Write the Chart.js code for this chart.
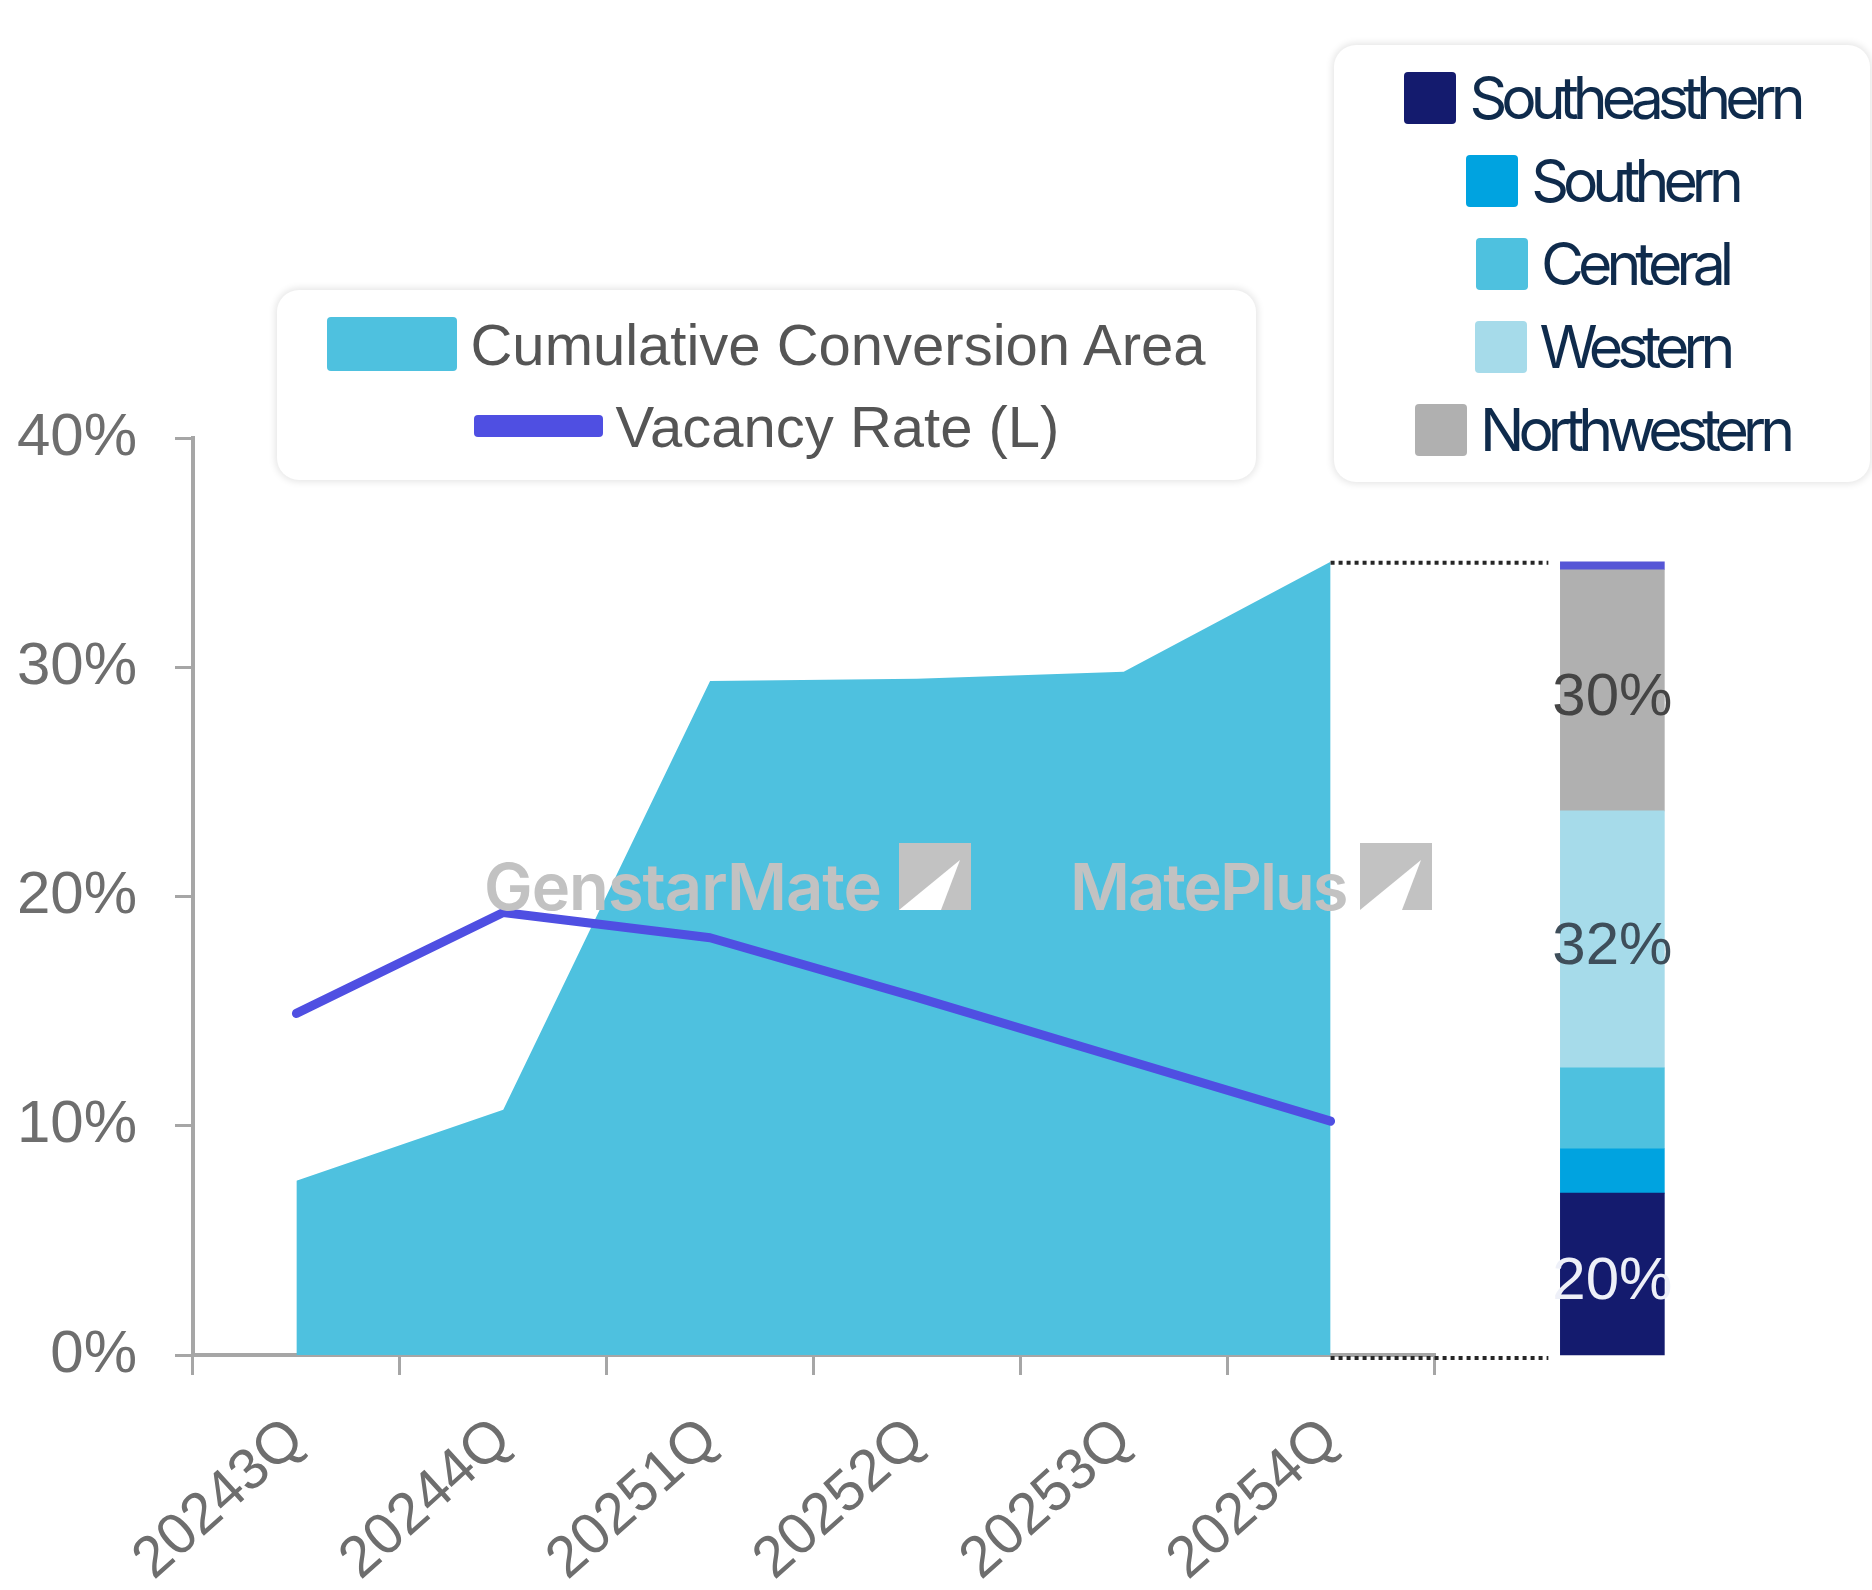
<!DOCTYPE html>
<html>
<head>
<meta charset="utf-8">
<script src="https://cdn.jsdelivr.net/npm/chart.js@4.4.1/dist/chart.umd.min.js"></script>
<style>
  html, body { margin: 0; padding: 0; background: #fff; }
  #wrap { position: relative; width: 1872px; height: 1590px; overflow: hidden; background: #fff; }
  #c { position: absolute; left: 0; top: 0; }
  .legend { position: absolute; background: #fff; border-radius: 22px;
            box-shadow: 0 0 7px 2px rgba(0,0,0,0.10);
            display: flex; flex-direction: column; justify-content: center; box-sizing: border-box; }
  .row { display: flex; align-items: center; justify-content: center; white-space: nowrap; }
  .sw { border-radius: 4px; flex: none; }
  #legend1 { left: 277px; top: 290px; width: 979px; height: 190px; }
  #legend1 .row { height: 82px; }
  #legend1 .txt { font-family: "Liberation Sans", Arial, sans-serif; font-size: 58px; color: #555; margin-left: 13px; }
  #legend2 { left: 1334px; top: 45px; width: 536px; height: 437px; }
  #legend2 .row { height: 83px; }
  #legend2 .txt { font-family: Inter, "Liberation Sans", sans-serif; font-size: 59px; color: #0f2b4c;
                  letter-spacing: -6px; margin-left: 13px; }
  .wm { position: absolute; font-family: Inter, "Liberation Sans", sans-serif; font-weight: 600;
        font-size: 65px; line-height: 65px; color: #c2c2c2; white-space: nowrap; letter-spacing: -1px; }
  .logo { position: absolute; }
</style>
</head>
<body>
<div id="wrap">
  <canvas id="c" width="1872" height="1590"></canvas>
  <div id="legend1" class="legend"></div>
  <div id="legend2" class="legend"></div>
  <div class="wm" style="left:484px; top:854px;">GenstarMate</div>
  <svg class="logo" style="left:899px; top:843px;" width="72" height="67" viewBox="0 0 72 67">
    <rect x="0" y="0" width="72" height="67" fill="#c2c2c2"/>
    <polygon points="61,17 0,67 42,67" fill="#fff"/>
  </svg>
  <div class="wm" style="left:1070px; top:854px; letter-spacing:-2px;">MatePlus</div>
  <svg class="logo" style="left:1360px; top:843px;" width="72" height="67" viewBox="0 0 72 67">
    <rect x="0" y="0" width="72" height="67" fill="#c2c2c2"/>
    <polygon points="61,17 0,67 42,67" fill="#fff"/>
  </svg>
</div>
<script>
// ---------------- data ----------------
const categories = ['20243Q', '20244Q', '20251Q', '20252Q', '20253Q', '20254Q'];
const conversionArea = [7.6, 10.7, 29.4, 29.5, 29.8, 34.6];   // % (area)
const vacancyRate = [14.9, 19.3, 18.2, 15.6, 12.9, 10.2];      // % (line, left axis)
const yTickValues = [0, 10, 20, 30, 40];
const seriesNames = ['Cumulative Conversion Area', 'Vacancy Rate (L)'];
const districtNames = ['Southeasthern', 'Southern', 'Centeral', 'Western', 'Northwestern'];
const districtShares = [20.4, 5.6, 10.2, 32.4, 30.4];          // % of 20254Q cumulative area
const otherShare = 1.0;                                        // thin top segment

// ---------------- styles ----------------
const COLORS = {
  area: '#4EC1DF',
  line: '#4F4FE2',
  districts: ['#141B6E', '#00A3E0', '#4EC1DF', '#A6DBEA', '#B0B0B0'],
  other: '#5656D6',
  axis: '#A6A6A6',
  tick: '#6E6E6E'
};
const BAR_LABEL_COLORS = ['#EEF0F8', '#333', '#333', '#3E4E5A', '#454545'];
const BAR_POS = 1.162;        // position of the breakdown bar on the hidden linear axis
const FONT = '"Liberation Sans", Arial, sans-serif';

// ---------------- legends (HTML) ----------------
const lg1 = document.getElementById('legend1');
lg1.innerHTML =
  '<div class="row"><span class="sw" style="width:130px;height:54px;background:' + COLORS.area + '"></span>' +
  '<span class="txt">' + seriesNames[0] + '</span></div>' +
  '<div class="row"><span class="sw" style="width:129px;height:22px;background:' + COLORS.line + '"></span>' +
  '<span class="txt">' + seriesNames[1] + '</span></div>';
const lg2 = document.getElementById('legend2');
lg2.innerHTML = districtNames.map((n, i) =>
  '<div class="row"><span class="sw" style="width:52px;height:52px;background:' + COLORS.districts[i] + '"></span>' +
  '<span class="txt">' + n + '</span></div>').join('');

// ---------------- bar segments ----------------
const allShares = districtShares.concat([otherShare]);
const shareSum = allShares.reduce((a, b) => a + b, 0);
const barTotal = conversionArea[conversionArea.length - 1];
const barColors = COLORS.districts.concat([COLORS.other]);
const barNames = districtNames.concat(['Other']);

const datasets = [
  { type: 'line', label: seriesNames[1], data: vacancyRate, borderColor: COLORS.line, borderWidth: 9,
    pointRadius: 0, tension: 0, fill: false, borderCapStyle: 'round', borderJoinStyle: 'round',
    order: 0, xAxisID: 'x', yAxisID: 'y' },
  { type: 'line', label: seriesNames[0], data: conversionArea, backgroundColor: COLORS.area,
    borderColor: 'rgba(0,0,0,0)', borderWidth: 0, pointRadius: 0, tension: 0, fill: 'origin',
    order: 1, xAxisID: 'x', yAxisID: 'y' }
];
allShares.forEach((s, i) => {
  datasets.push({
    type: 'bar', label: barNames[i],
    data: [{ x: BAR_POS, y: s / shareSum * barTotal }],
    share: s,
    backgroundColor: barColors[i], borderWidth: 0,
    xAxisID: 'xb', yAxisID: 'yb', stack: 'dist', barThickness: 104, clip: false, order: 2
  });
});

const overlayPlugin = {
  id: 'overlay',
  afterDatasetsDraw(chart) {
    const ctx = chart.ctx;
    const yb = chart.scales.yb;
    const areaMeta = chart.getDatasetMeta(1);
    const lastPt = areaMeta.data[areaMeta.data.length - 1];
    const firstBar = chart.getDatasetMeta(2).data[0];
    const barLeft = firstBar.x - firstBar.width / 2;
    const topY = yb.getPixelForValue(barTotal);
    const baseY = yb.getPixelForValue(0);
    ctx.save();
    ctx.setLineDash([4, 4]);
    ctx.lineWidth = 4;
    ctx.strokeStyle = '#262626';
    ctx.beginPath();
    ctx.moveTo(lastPt.x, lastPt.y + 1);
    ctx.lineTo(barLeft - 12, topY + 1);
    ctx.moveTo(lastPt.x, baseY + 3);
    ctx.lineTo(barLeft - 12, baseY + 3);
    ctx.stroke();
    ctx.setLineDash([]);
    // percentage labels on the large segments
    ctx.font = '60px ' + FONT;
    ctx.textAlign = 'center';
    ctx.textBaseline = 'middle';
    for (let i = 0; i < allShares.length; i++) {
      const ds = chart.data.datasets[2 + i];
      if (ds.share < 15) continue;
      const el = chart.getDatasetMeta(2 + i).data[0];
      ctx.fillStyle = BAR_LABEL_COLORS[i];
      ctx.fillText(Math.round(ds.share) + '%', el.x, (el.y + el.base) / 2 + 8);
    }
    ctx.restore();
  }
};

new Chart(document.getElementById('c'), {
  type: 'line',
  data: { labels: categories, datasets: datasets },
  options: {
    responsive: false,
    animation: false,
    devicePixelRatio: 1,
    layout: { padding: { left: 0, top: 438, right: 438, bottom: 0 } },
    plugins: { legend: { display: false }, tooltip: { enabled: false } },
    scales: {
      x: {
        type: 'category', offset: true,
        grid: { offset: true, drawOnChartArea: false, drawTicks: true, tickLength: 20, color: COLORS.axis, lineWidth: 3 },
        border: { display: true, color: COLORS.axis, width: 4 },
        ticks: { autoSkip: false, minRotation: 42, maxRotation: 42, padding: 30, color: COLORS.tick,
                 font: { family: FONT, size: 58 } },
        afterFit: (s) => { s.height = 235; }
      },
      y: {
        type: 'linear', min: 0, max: 40,
        afterBuildTicks: (s) => { s.ticks = yTickValues.map(v => ({ value: v })); },
        grid: { drawOnChartArea: false, tickLength: 18, color: COLORS.axis, lineWidth: 3 },
        border: { display: true, color: COLORS.axis, width: 4 },
        ticks: { padding: 38, color: COLORS.tick, font: { family: FONT, size: 60 }, callback: (v) => v + '%' },
        afterFit: (s) => { s.width = 193; }
      },
      xb: { type: 'linear', display: false, min: 0, max: 1, stacked: true },
      yb: { type: 'linear', display: false, min: 0, max: 40, stacked: true }
    }
  },
  plugins: [overlayPlugin]
});
</script>
</body>
</html>
